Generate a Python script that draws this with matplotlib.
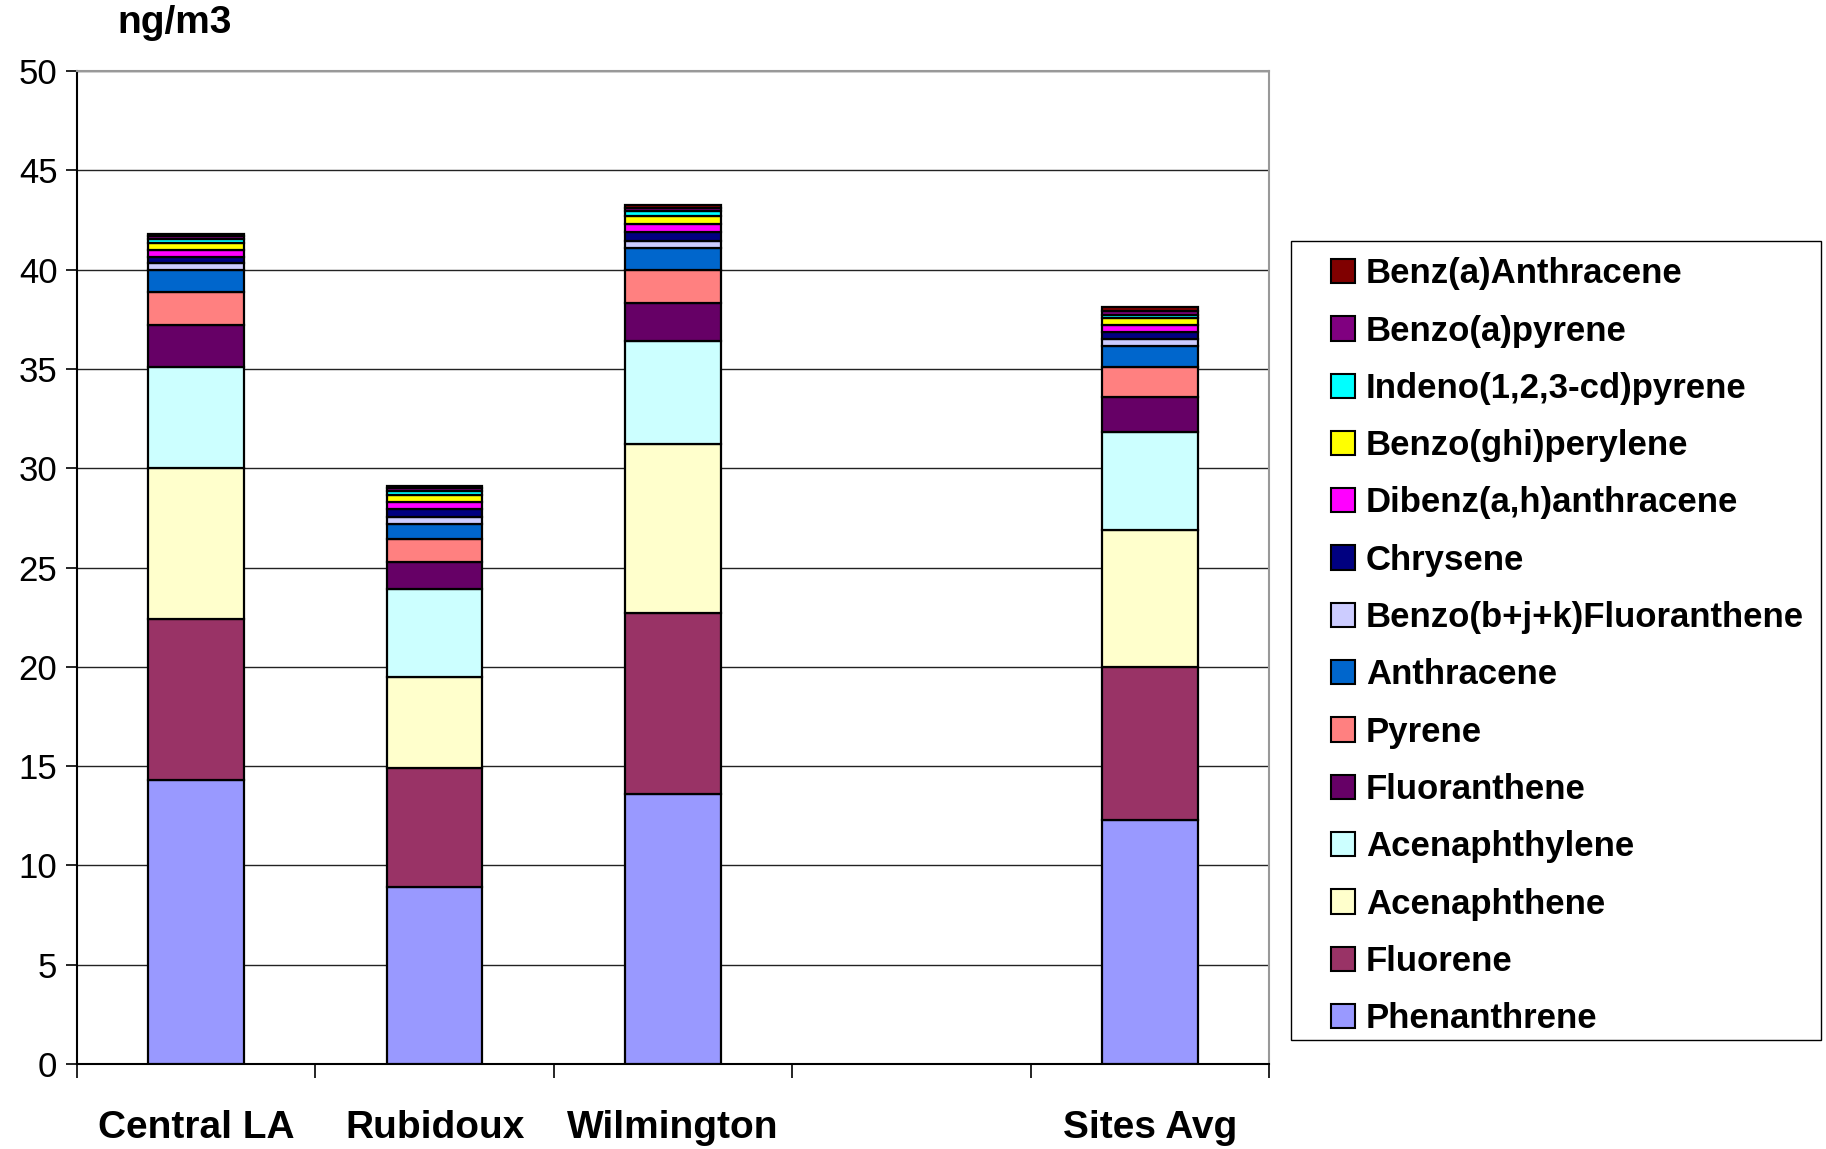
import numpy as np
import matplotlib.pyplot as plt
from matplotlib.patches import Patch, Rectangle

plt.rcParams["font.family"] = ["Liberation Sans", "DejaVu Sans"]

sites = ["Central LA", "Rubidoux", "Wilmington", "", "Sites Avg"]

# compounds from the bottom of each stack to the top
compounds = [
    "Phenanthrene", "Fluorene", "Acenaphthene", "Acenaphthylene",
    "Fluoranthene", "Pyrene", "Anthracene", "Benzo(b+j+k)Fluoranthene",
    "Chrysene", "Dibenz(a,h)anthracene", "Benzo(ghi)perylene",
    "Indeno(1,2,3-cd)pyrene", "Benzo(a)pyrene", "Benz(a)Anthracene",
]
colors = [
    "#9999FF", "#993366", "#FFFFCC", "#CCFFFF",
    "#660066", "#FF8080", "#0066CC", "#CCCCFF",
    "#000080", "#FF00FF", "#FFFF00",
    "#00FFFF", "#800080", "#800000",
]

# ng/m3 per site, one list per compound (empty slot has no bar)
phenanthrene   = [14.3, 8.9, 13.6, np.nan, 12.3]
fluorene       = [8.1, 6.0, 9.1, np.nan, 7.7]
acenaphthene   = [7.6, 4.6, 8.5, np.nan, 6.9]
acenaphthylene = [5.1, 4.4, 5.2, np.nan, 4.9]
fluoranthene   = [2.1, 1.4, 1.9, np.nan, 1.8]
pyrene         = [1.65, 1.15, 1.7, np.nan, 1.5]
anthracene     = [1.15, 0.75, 1.1, np.nan, 1.05]
benzo_bjk      = [0.35, 0.35, 0.35, np.nan, 0.35]
chrysene       = [0.3, 0.4, 0.45, np.nan, 0.35]
dibenz_ah      = [0.35, 0.35, 0.4, np.nan, 0.35]
benzo_ghi      = [0.35, 0.35, 0.4, np.nan, 0.35]
indeno         = [0.2, 0.2, 0.25, np.nan, 0.15]
benzo_a_pyrene = [0.15, 0.15, 0.15, np.nan, 0.2]
benz_a_anthr   = [0.1, 0.1, 0.15, np.nan, 0.2]

series = [
    phenanthrene, fluorene, acenaphthene, acenaphthylene, fluoranthene,
    pyrene, anthracene, benzo_bjk, chrysene, dibenz_ah, benzo_ghi,
    indeno, benzo_a_pyrene, benz_a_anthr,
]

W, H = 1568, 987  # layout grid used for placing axes and legend

fig = plt.figure(figsize=(18.26, 11.49), dpi=100)
ax = fig.add_axes([66 / W, 1 - 914 / H, (1090 - 66) / W, (914 - 61) / H])

x = np.arange(len(sites))
bottom = np.zeros(len(sites))
for name, vals, col in zip(compounds, series, colors):
    v = np.array(vals, dtype=float)
    mask = ~np.isnan(v)
    ax.bar(x[mask], v[mask], width=0.4, bottom=bottom[mask], color=col,
           edgecolor="black", linewidth=1.6, zorder=3)
    bottom[mask] += v[mask]

ax.set_xlim(-0.5, len(sites) - 0.5)
ax.set_ylim(0, 50)
ax.set_yticks(np.arange(0, 51, 5))
ax.yaxis.grid(True, color="#222222", linewidth=1.0, zorder=0)
ax.tick_params(axis="y", labelsize=25, length=8, width=1.2, direction="out", pad=6)

# category ticks sit between bars, labels centred under them
ax.set_xticks(np.arange(-0.5, len(sites)), minor=False)
ax.set_xticklabels([])
ax.set_xticks(x, minor=True)
ax.set_xticklabels(sites, minor=True, fontsize=28, fontweight="bold")
ax.tick_params(axis="x", which="major", length=10, width=1.2, direction="out")
ax.tick_params(axis="x", which="minor", length=0, pad=33)

for side in ["top", "right"]:
    ax.spines[side].set_color("#999999")
    ax.spines[side].set_linewidth(1.5)
for side in ["left", "bottom"]:
    ax.spines[side].set_color("black")
    ax.spines[side].set_linewidth(1.5)

fig.text(150 / W, 1 - 20 / H, "ng/m3", fontsize=28, fontweight="bold",
         ha="center", va="center")

# legend frame is a fixed box; entries are placed inside it
fig.patches.append(Rectangle((1109 / W, 1 - 893 / H), (1564 - 1109) / W, (893 - 207) / H,
                             transform=fig.transFigure, facecolor="white",
                             edgecolor="black", linewidth=1.0, zorder=1))
handles = [Patch(facecolor=c, edgecolor="black", linewidth=1.5, label=n)
           for n, c in zip(compounds, colors)][::-1]
leg = fig.legend(handles=handles, loc="upper left",
                 bbox_to_anchor=(1143 / W, 1 - 221 / H),
                 frameon=False,
                 prop={"size": 25, "weight": "bold"},
                 handlelength=0.7, handleheight=0.7, handletextpad=0.3,
                 labelspacing=0.70, borderpad=0, borderaxespad=0)
leg.set_zorder(2)

fig.savefig("out.png", dpi=100)
